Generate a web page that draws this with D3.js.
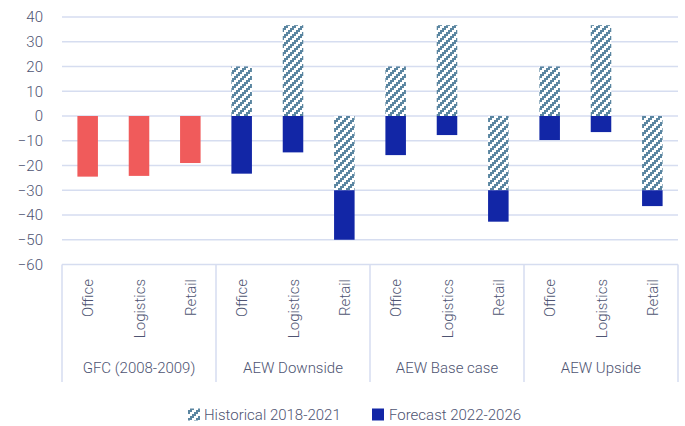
<!DOCTYPE html>
<html>
<head>
<meta charset="utf-8">
<script src="https://cdn.jsdelivr.net/npm/d3@7"></script>
<style>
  html, body { margin: 0; padding: 0; background: #fff; }
  svg { display: block; font-family: Roboto, "Open Sans", sans-serif; font-weight: 300; }
</style>
</head>
<body>
<svg id="chart" width="685" height="426"></svg>
<script>
// Scenario groups and property sectors
const groups = ["GFC (2008-2009)", "AEW Downside", "AEW Base case", "AEW Upside"];
const sectors = ["Office", "Logistics", "Retail"];
const yTicks = [40, 30, 20, 10, 0, -10, -20, -30, -40, -50, -60];

// GFC capital value change (%)
const gfcValues = [-24.5, -24.2, -19];
// Historical change 2018-2021 (%), same for each AEW scenario
const historical = [20, 36.7, -30];
// Forecast change 2022-2026 (%) per AEW scenario
const forecastDownside = [-23.3, -14.7, -20];
const forecastBase = [-15.8, -7.7, -12.7];
const forecastUpside = [-9.7, -6.5, -6.4];

const legendLabels = ["Historical 2018-2021", "Forecast 2022-2026"];

const colors = { gfc: "#f05b5b", forecast: "#1226a6", hatch: "#5b86a1", grid: "#d6ddf0", text: "#4e5472" };

const svg = d3.select("#chart");
const plotLeft = 62, plotRight = 678, plotTop = 17, plotBottom = 264.5;

// Flat list of categories: group|sector
const cats = [];
groups.forEach(g => sectors.forEach(s => cats.push(g + "|" + s)));

const x = d3.scaleBand().domain(cats).range([plotLeft, plotRight]).paddingInner(0.6).paddingOuter(0.3);
const y = d3.scaleLinear().domain([-60, 40]).range([plotBottom, plotTop]);

// Blocky upward-diagonal hatch for historical bars
const defs = svg.append("defs");
const pat = defs.append("pattern").attr("id", "hatch").attr("patternUnits", "userSpaceOnUse")
  .attr("width", 8).attr("height", 8);
pat.append("rect").attr("width", 8).attr("height", 8).attr("fill", "#fff");
const steps = [[6, 0], [4, 2], [2, 4], [0, 6]];
steps.forEach(([sx, sy]) => {
  pat.append("rect").attr("x", sx).attr("y", sy).attr("width", 4).attr("height", 2).attr("fill", colors.hatch);
  if (sx + 4 > 8) pat.append("rect").attr("x", sx - 8).attr("y", sy).attr("width", 4).attr("height", 2).attr("fill", colors.hatch);
});

// Gridlines
svg.append("g").selectAll("line").data(yTicks).join("line")
  .attr("x1", plotLeft).attr("x2", plotRight)
  .attr("y1", d => y(d)).attr("y2", d => y(d))
  .attr("stroke", colors.grid).attr("stroke-width", 1.5);

// Y axis labels
const yAxis = d3.axisLeft(y).tickValues(yTicks).tickSize(0).tickPadding(0);
const yg = svg.append("g").attr("transform", `translate(43,0)`).call(yAxis);
yg.select(".domain").remove();
yg.selectAll("text").attr("fill", colors.text).attr("font-size", 15)
  .attr("font-family", "Roboto, sans-serif").attr("font-weight", 300);

// Build stacked segments
const segments = [];
sectors.forEach((s, i) => {
  segments.push({ cat: groups[0] + "|" + s, y0: 0, y1: gfcValues[i], fill: colors.gfc });
});
[forecastDownside, forecastBase, forecastUpside].forEach((fc, gi) => {
  const g = groups[gi + 1];
  sectors.forEach((s, i) => {
    const h = historical[i];
    segments.push({ cat: g + "|" + s, y0: 0, y1: h, fill: "url(#hatch)" });
    const base = h < 0 ? h : 0;
    segments.push({ cat: g + "|" + s, y0: base, y1: base + fc[i], fill: colors.forecast });
  });
});

svg.append("g").selectAll("rect").data(segments).join("rect")
  .attr("x", d => x(d.cat))
  .attr("width", x.bandwidth())
  .attr("y", d => y(Math.max(d.y0, d.y1)))
  .attr("height", d => Math.abs(y(d.y0) - y(d.y1)))
  .attr("fill", d => d.fill);

// Category axis box
const boxBottom = 382;
const groupW = (plotRight - plotLeft) / groups.length;
const axisG = svg.append("g");
d3.range(groups.length + 1).forEach(i => {
  const xx = plotLeft + i * groupW;
  axisG.append("line").attr("x1", xx).attr("x2", xx).attr("y1", plotBottom).attr("y2", boxBottom)
    .attr("stroke", colors.grid).attr("stroke-width", 1.5);
});

// Sector labels (rotated)
svg.append("g").selectAll("text").data(cats).join("text")
  .attr("transform", d => `translate(${x(d) + x.bandwidth() / 2 + 5.5},279) rotate(-90)`)
  .attr("text-anchor", "end")
  .attr("font-size", 15).attr("fill", colors.text)
  .text(d => d.split("|")[1]);

// Group labels
svg.append("g").selectAll("text").data(groups).join("text")
  .attr("x", (d, i) => plotLeft + (i + 0.5) * groupW)
  .attr("y", 373)
  .attr("text-anchor", "middle")
  .attr("font-size", 15).attr("fill", colors.text)
  .text(d => d);

// Legend
const lg = svg.append("g");
lg.append("rect").attr("x", 188).attr("y", 408.5).attr("width", 12).attr("height", 12).attr("fill", "url(#hatch)");
lg.append("text").attr("x", 204).attr("y", 420).attr("font-size", 15).attr("fill", colors.text).text(legendLabels[0]);
lg.append("rect").attr("x", 372).attr("y", 408.5).attr("width", 12).attr("height", 12).attr("fill", colors.forecast);
lg.append("text").attr("x", 389).attr("y", 420).attr("font-size", 15).attr("fill", colors.text).text(legendLabels[1]);
</script>
</body>
</html>
